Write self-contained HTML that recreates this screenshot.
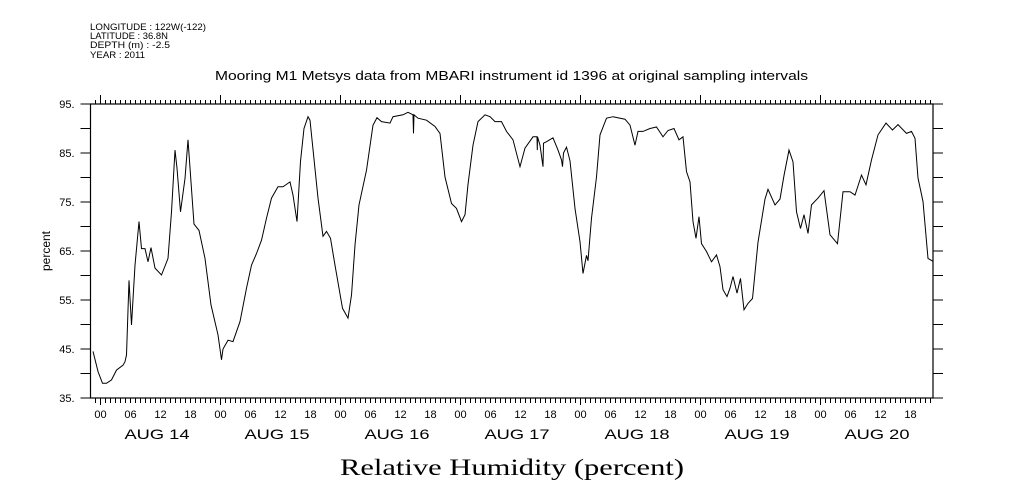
<!DOCTYPE html>
<html><head><meta charset="utf-8"><style>
html,body{margin:0;padding:0;background:#fff;}
svg{display:block;font-family:"Liberation Sans",sans-serif;}
</style></head><body>
<svg id="chart" width="1009" height="504" viewBox="0 0 1009 504" xmlns="http://www.w3.org/2000/svg">
<g font-size="9" fill="#000">
<text x="90" y="30" textLength="116" lengthAdjust="spacingAndGlyphs">LONGITUDE : 122W(-122)</text>
<text x="90" y="39" textLength="78" lengthAdjust="spacingAndGlyphs">LATITUDE : 36.8N</text>
<text x="90" y="48" textLength="80" lengthAdjust="spacingAndGlyphs">DEPTH (m) : -2.5</text>
<text x="90" y="58" textLength="55" lengthAdjust="spacingAndGlyphs">YEAR : 2011</text>
</g>
<text x="215" y="80" textLength="593" lengthAdjust="spacingAndGlyphs" font-size="12.5">Mooring M1 Metsys data from MBARI instrument id 1396 at original sampling intervals</text>
<text x="340" y="475" textLength="344" lengthAdjust="spacingAndGlyphs" font-size="23" font-family="Liberation Serif, serif">Relative Humidity (percent)</text>
<text transform="translate(50,251) rotate(-90)" text-anchor="middle" font-size="12">percent</text>
<g id="axes"></g>
<g id="series"></g>
</svg>
<script>
const hours=[-1.5,-0.5,0.4,1.2,2.2,3.2,4.5,4.9,5.2,5.7,6.2,6.9,7.7,8.2,8.9,9.5,10.1,10.9,12.2,13.5,14.2,14.9,15.3,16,16.9,17.5,18.7,19.7,20.9,22.1,23.5,24.2,24.5,25.5,26.5,27.9,29.2,30.2,31.2,32.2,33.2,34.2,35.5,36.5,37.9,38.5,39.3,40,40.7,41.5,41.9,43.5,44.5,45.2,46,46.9,48.4,49.5,50.2,50.9,51.7,53.2,54.5,55.3,56.2,57.9,58.5,60.5,61.5,62.5,62.6,62.7,63.5,65.2,66.9,67.9,68.9,70.2,71.2,72.2,72.9,73.5,74.5,75.5,76.9,77.9,78.9,80.2,81.2,82.5,83.9,84.9,86.5,87.3,87.35,87.4,87.9,88.5,88.6,89.2,90.5,91.5,92.2,92.4,92.6,93.2,93.9,94.9,95.9,96.5,97.2,97.5,98.2,99.2,99.9,101.2,102.5,104.9,105.9,106.9,107.5,108.5,109.9,111.2,112.5,113.5,114.7,115.7,116.5,117.2,117.9,118.5,119.1,119.7,120.2,121.2,122.2,123.2,123.9,124.5,125.3,125.9,126.5,127.3,128,128.7,129.5,130.4,131.5,132.9,133.5,134.9,135.9,136.7,137.7,138.5,139.2,140,140.7,141.5,142.2,143.5,144.7,145.9,147.4,148.5,149.9,150.9,152.2,153.1,154.2,155.5,157.1,158.4,159.5,161.2,162.2,162.9,163.5,164.5,165.5,166.5];
const humidity=[44.5,40.4,38,38,38.7,40.7,41.7,42.4,43.8,59,49.9,62.1,71,65.5,65.5,62.8,65.7,61.5,60.1,63.5,73,85.6,81.9,73,79.8,87.7,70.5,69.2,63.5,54,47.9,42.8,45,46.8,46.5,50.6,57.4,62.1,64.5,67.2,71.7,75.8,78.1,78.1,79.1,76.4,71,83.3,90,92.4,91.7,75.8,68,69,67.6,62.1,53.3,51.3,56,66.2,74.4,81.5,90.7,92.2,91.4,91.1,92.4,92.8,93.3,92.8,89,92.8,92.1,91.7,90.4,89,80.1,74.7,73.7,71,72.4,78.6,86.6,91.4,92.8,92.4,91.4,91.4,89.4,87.7,82.2,86,88.3,88.3,85.6,88.3,86.6,82.2,87,87.3,88.1,85.6,83.6,82.2,85,86.2,83.4,73.7,66.9,60.4,64.1,63,71.7,80.1,88.7,92.1,92.4,91.9,90.7,86.6,89.4,89.4,90,90.3,88.3,89.6,90,87.7,88.3,81.2,79.1,71,67.6,72,66.5,64.9,62.8,64.2,61.8,57.1,55.7,57.4,59.8,56.4,59.4,53,54.3,55.3,66.8,75.6,77.6,74.4,75.6,80.4,85.6,83.2,73,69.6,72.4,68.6,74.4,75.8,77.3,68.3,66.5,77.1,77.1,76.4,80.5,78.5,83.6,88.7,91.1,89.7,90.8,89,89.4,88,79.9,75.1,63.5,62.9];
const yTickValues=[35,40,45,50,55,60,65,70,75,80,85,90,95];
const yLabelValues=[35,45,55,65,75,85,95];
const dayLabels=["AUG 14","AUG 15","AUG 16","AUG 17","AUG 18","AUG 19","AUG 20"];
const hourLabels=["00","06","12","18"];

const NS="http://www.w3.org/2000/svg";
const L=90.5,R=933,T=104,B=398;
const xMin=-2,xMax=166.5,yMin=35,yMax=95;
function xs(h){return L+(h-xMin)/(xMax-xMin)*(R-L);}
function ys(v){return B-(v-yMin)/(yMax-yMin)*(B-T);}
function mk(tag,attrs,parent){const e=document.createElementNS(NS,tag);for(const k in attrs)e.setAttribute(k,attrs[k]);parent.appendChild(e);return e;}
const axes=document.getElementById('axes');
const frame=mk('rect',{x:L,y:T,width:R-L,height:B-T,fill:'none',stroke:'#000','stroke-width':1.2},axes);


let d='';
yTickValues.forEach(v=>{const y=ys(v);d+=`M${L-10},${y}H${L}M${R},${y}H${R+10}`;});
for(let h=-1;h<=166;h++){const x=xs(h);const major=((h%24)+24)%24===0;
 d+=major?`M${x},${T}V${T-9}M${x},${B}V${B+7}`:`M${x},${T}V${T-4}M${x},${B}V${B+5}`;}
const ticks=mk('path',{d:d,stroke:'#000','stroke-width':1,fill:'none'},axes);


yLabelValues.forEach(v=>{const t=mk('text',{x:L-16,y:ys(v)+4,'text-anchor':'end','font-size':11},axes);t.textContent=v+'.';
 
 });
dayLabels.forEach((lab,i)=>{
 hourLabels.forEach((hl,j)=>{const t=mk('text',{x:xs(i*24+j*6),y:418,'text-anchor':'middle','font-size':11},axes);t.textContent=hl;
  
  });
 const t=mk('text',{x:xs(i*24+12)-36,y:439,'font-size':14,textLength:65,lengthAdjust:'spacingAndGlyphs'},axes);t.textContent=lab;
 
 
});
const pts=hours.map((h,i)=>xs(h).toFixed(1)+','+ys(humidity[i]).toFixed(1)).join(' ');
const line=mk('polyline',{points:pts,fill:'none',stroke:'#000','stroke-width':1},document.getElementById('series'));


</script>
</body></html>
